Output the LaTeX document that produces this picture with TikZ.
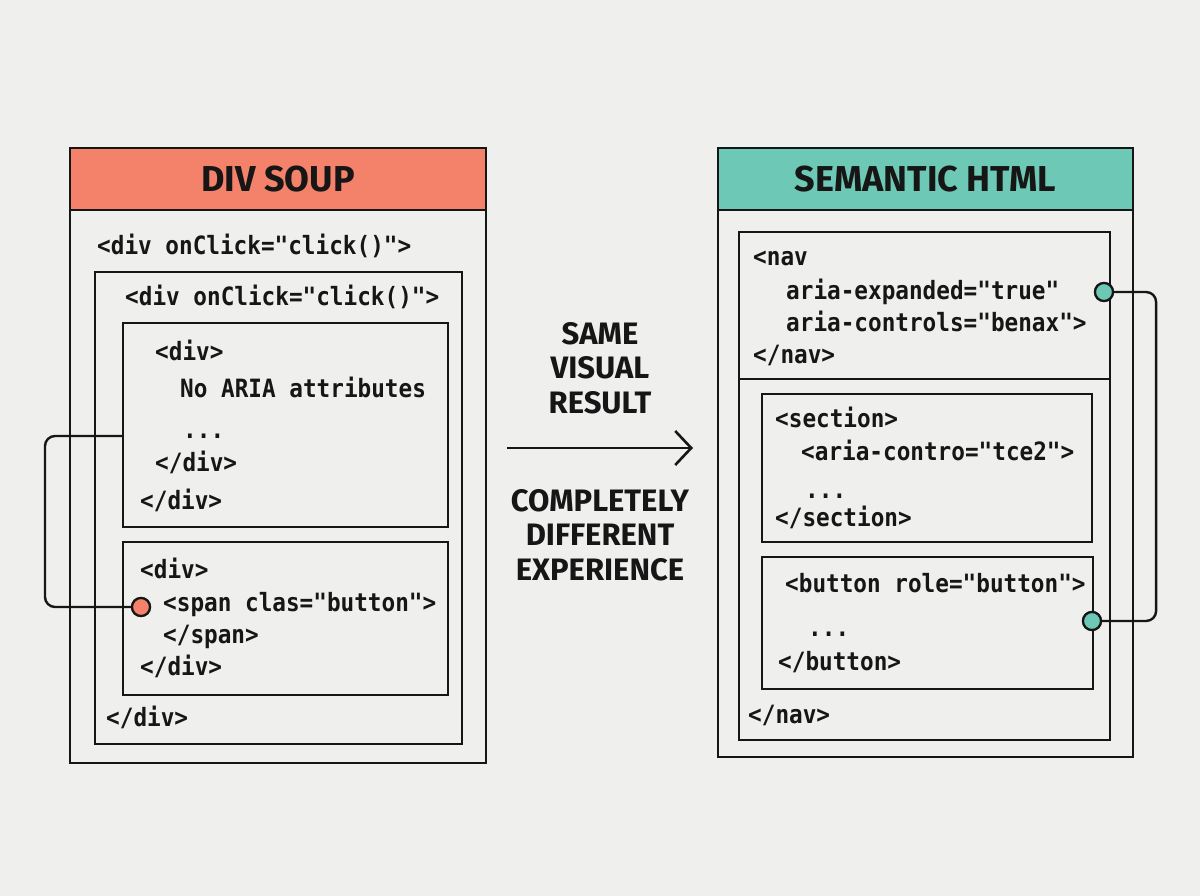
\documentclass[tikz,border=0pt]{standalone}
\usepackage{fontspec}
\setmainfont{Fira Sans}
\newfontfamily\codefont{DejaVu Sans Mono}[FakeStretch=0.9]
\usetikzlibrary{arrows.meta, positioning, calc}
\definecolor{paper}{HTML}{EFEFEE}
\definecolor{soupred}{HTML}{F4826B}
\definecolor{semteal}{HTML}{6DC9B6}
\definecolor{ink}{HTML}{161616}
\tikzset{
  panel box/.style={
    rectangle, draw=ink, line width=2.6pt, inner sep=0pt
  },
  code box/.style={
    rectangle, draw=ink, line width=2.2pt, inner sep=0pt
  },
  panel head/.style={
    panel box, text=ink, font=\bfseries\fontsize{36}{40}\selectfont
  },
  code line/.style={
    anchor=mid west, inner sep=0pt, text=ink, yshift=-6pt,
    font=\codefont\bfseries\fontsize{25.2}{28}\selectfont
  },
  pin dot/.style={
    circle, draw=ink, line width=2.2pt, minimum size=18pt, inner sep=0pt
  },
  link/.style={
    draw=ink, line width=2.4pt, rounded corners=10pt
  },
  mid label/.style={
    align=center, text=ink, font=\bfseries\fontsize{31}{34.5}\selectfont
  }
}

\begin{document}
\begin{tikzpicture}[x=1pt, y=-1pt]

\fill[paper] (0,0) rectangle (1200,896);
\useasboundingbox (0,0) rectangle (1200,896);

% ====== LEFT: Div Soup ======
\node[panel box, minimum width=416pt, minimum height=615pt] (soup) at (278,455.5) {};
\node[panel head, fill=soupred, minimum width=416pt, minimum height=62pt] (soup head) at (278,179) {DIV SOUP};
\node[code line] (s1) at (97,246) {<div onClick="click()">};

% -- outer clickable div --
\node[code box, minimum width=367pt, minimum height=472pt] (soup div) at (278.5,508) {};
\node[code line] (s2) at (125,297) {<div onClick="click()">};

% -- first inner div --
\node[code box, minimum width=325pt, minimum height=204pt] (soup in1) at (285.5,425) {};
\node[code line] (s3) at (155,352) {<div>};
\node[code line] (s4) at (180,389) {No ARIA attributes};
\node[code line] (s5) at (183,430) {...};
\node[code line] (s6) at (155,463) {</div>};
\node[code line] (s7) at (140,501) {</div>};

% -- second inner div --
\node[code box, minimum width=325pt, minimum height=153pt] (soup in2) at (285.5,618.5) {};
\node[code line] (s8) at (140,570) {<div>};
\node[code line] (s9) at (163,603) {<span clas="button">};
\node[code line] (s10) at (163,635) {</span>};
\node[code line] (s11) at (140,667) {</div>};
\node[code line] (s12) at (106,718) {</div>};

% connector
\coordinate (soup join) at (123,436);
\node[pin dot, fill=soupred] (soup pin) at (141,607) {};
\draw[link] (soup join) -- ++(-78,0) |- (soup pin.west);
\node[pin dot, fill=soupred] at (soup pin) {};

% ====== MIDDLE ======
\node[mid label] (same) at (600,368) {SAME\\VISUAL\\RESULT};
\coordinate (arrow tail) at (507,448);
\coordinate (arrow tip) at (693,448);
\draw[ink, line width=2.6pt, -{Straight Barb[length=16pt, width=34pt]}] (arrow tail) -- (arrow tip);
\node[mid label] (differ) at (600,535) {COMPLETELY\\DIFFERENT\\EXPERIENCE};

% ====== RIGHT: Semantic HTML ======
\node[panel box, minimum width=415pt, minimum height=609pt] (sem) at (925.5,452.5) {};
\node[panel head, fill=semteal, minimum width=415pt, minimum height=62pt] (sem head) at (925.5,179) {SEMANTIC HTML};

% -- nav --
\node[code box, minimum width=371pt, minimum height=508pt] (nav) at (924.5,486) {};
\node[code box, minimum width=371pt, minimum height=147pt] (nav top) at (924.5,305.5) {};
\node[code line] (h1) at (753,257) {<nav};
\node[code line] (h2) at (786,291) {aria-expanded="true"};
\node[code line] (h3) at (786,323) {aria-controls="benax">};
\node[code line] (h4) at (753,355) {</nav>};

% -- section --
\node[code box, minimum width=330pt, minimum height=148pt] (section) at (927,468) {};
\node[code line] (h5) at (775,419) {<section>};
\node[code line] (h6) at (801,452) {<aria-contro="tce2">};
\node[code line] (h7) at (805,490) {...};
\node[code line] (h8) at (775,518) {</section>};

% -- button --
\node[code box, minimum width=331pt, minimum height=132pt] (button) at (927.5,623) {};
\node[code line] (h9) at (785,584) {<button role="button">};
\node[code line] (h10) at (808,628) {...};
\node[code line] (h11) at (778,662) {</button>};
\node[code line] (h12) at (748,715) {</nav>};

% connector
\node[pin dot, fill=semteal] (sem pin1) at (1104,292) {};
\node[pin dot, fill=semteal] (sem pin2) at (1092,621) {};
\draw[link] (sem pin1.east) -- ++(42,0) |- (sem pin2.east);
\node[pin dot, fill=semteal] at (sem pin1) {};
\node[pin dot, fill=semteal] at (sem pin2) {};

\end{tikzpicture}
\end{document}
